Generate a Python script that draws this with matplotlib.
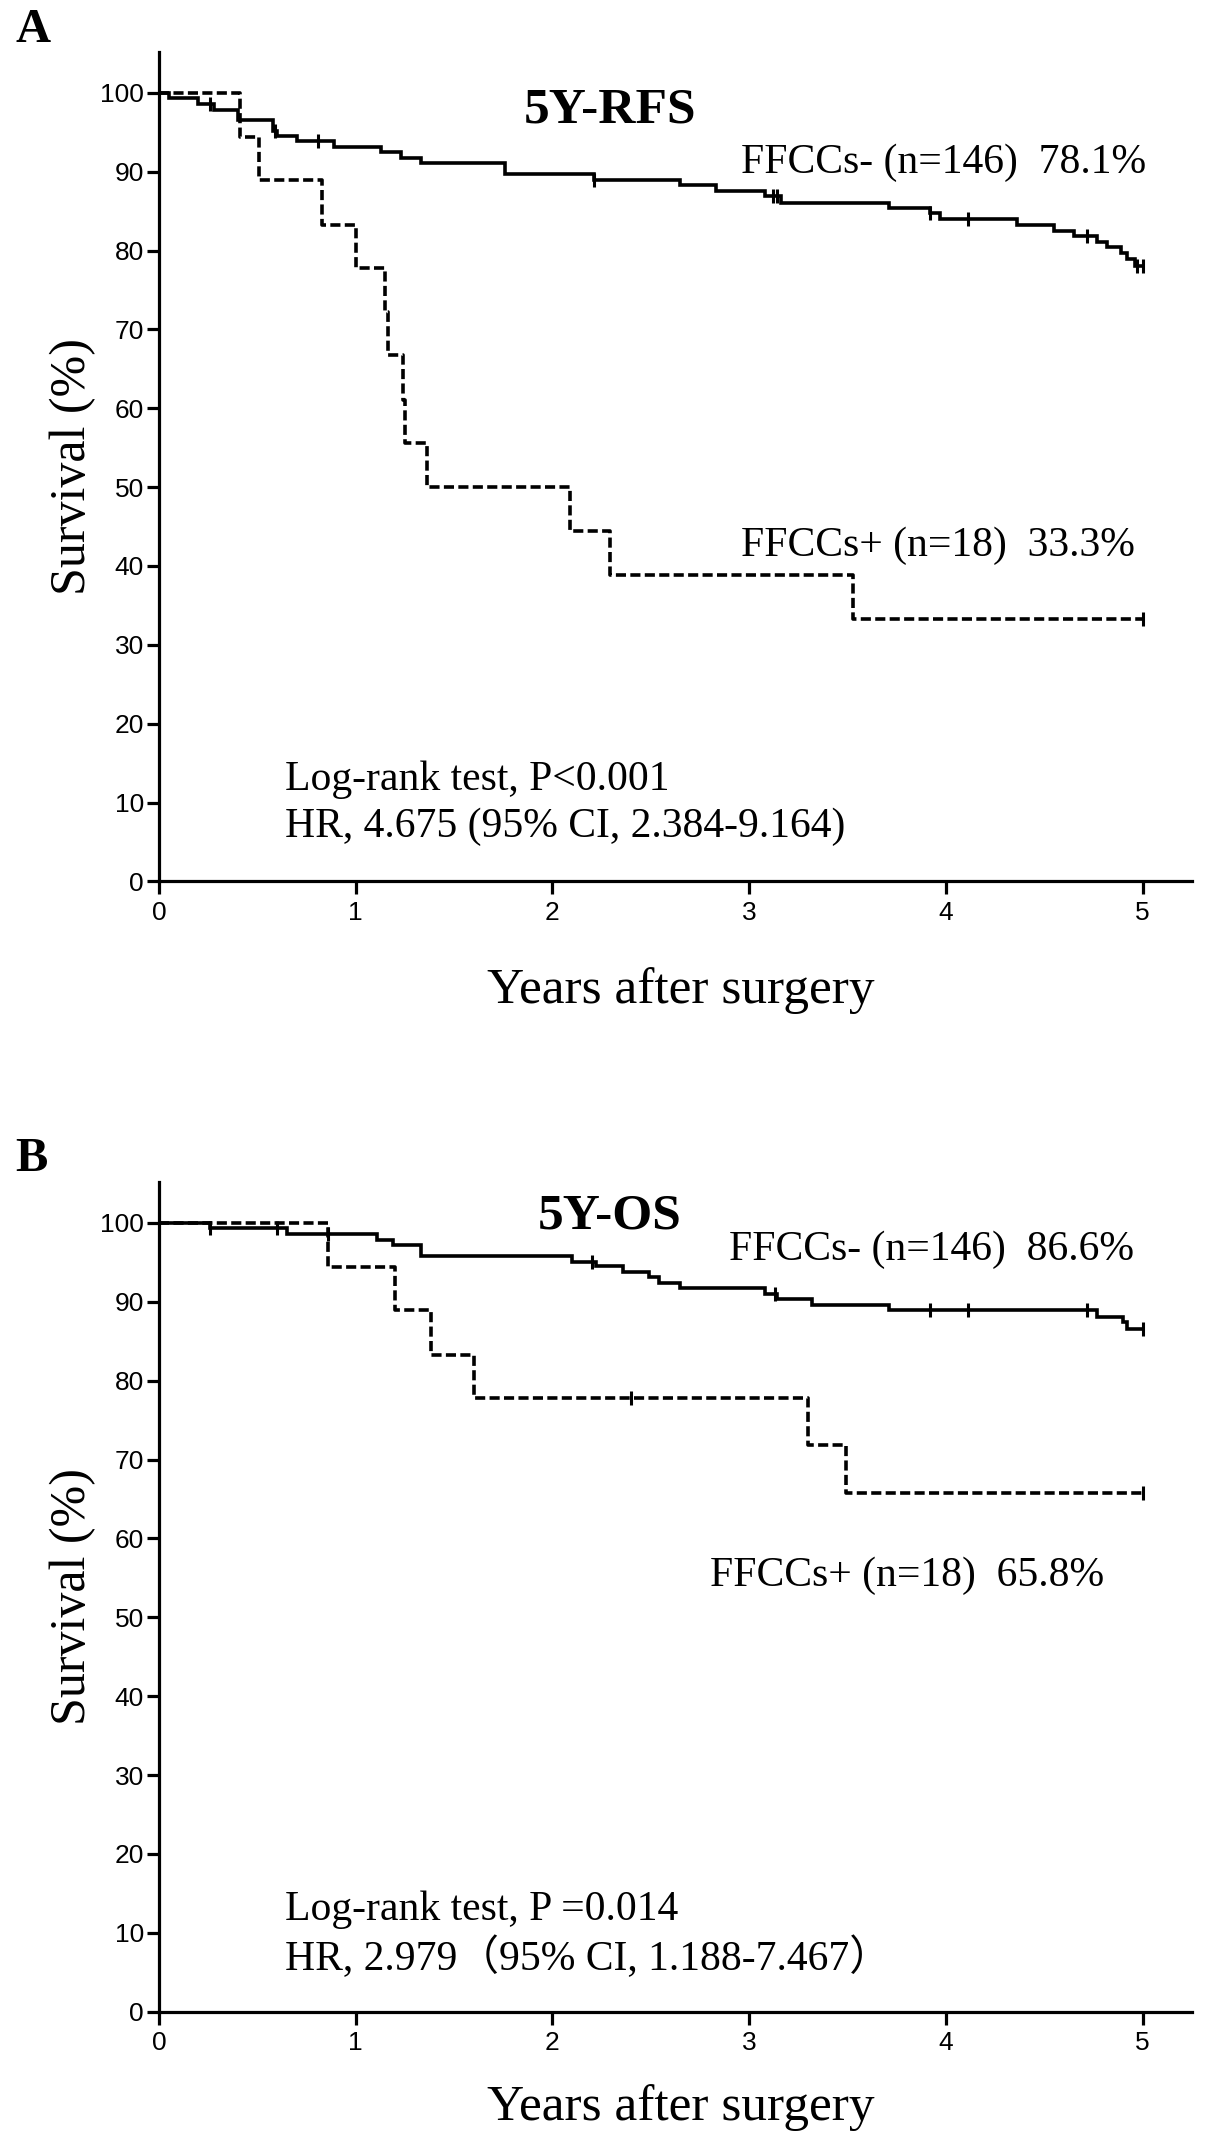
import matplotlib
matplotlib.use("Agg")
import matplotlib.pyplot as plt

# panel A, 5Y-RFS
rfs_neg_t = [0, 0.05, 0.20, 0.28, 0.40, 0.58, 0.60, 0.70, 0.89, 1.13, 1.23, 1.33, 1.76,
             2.21, 2.65, 2.83, 3.08, 3.16, 3.71, 3.92, 3.97, 4.36, 4.55, 4.65, 4.77,
             4.82, 4.89, 4.92, 4.96, 5.0]
rfs_neg_s = [100, 99.3, 98.6, 97.9, 96.6, 95.2, 94.5, 93.9, 93.2, 92.5, 91.8, 91.1, 89.7,
             89.0, 88.3, 87.6, 86.9, 86.1, 85.4, 84.8, 84.0, 83.3, 82.5, 81.8, 81.1,
             80.4, 79.7, 79.0, 78.1, 78.1]
rfs_neg_cens = [0.26, 0.59, 0.81, 2.21, 3.12, 3.14, 3.92, 4.11, 4.72, 4.97, 5.0]

rfs_pos_t = [0, 0.41, 0.51, 0.83, 1.00, 1.15, 1.165, 1.24, 1.25, 1.36, 2.09, 2.29, 3.53, 5.0]
rfs_pos_s = [100, 94.4, 88.9, 83.3, 77.8, 72.2, 66.7, 61.1, 55.6, 50.0, 44.4, 38.9, 33.3, 33.3]
rfs_pos_cens = [5.0]

# panel B, 5Y-OS
os_neg_t = [0, 0.26, 0.65, 1.11, 1.19, 1.33, 2.10, 2.22, 2.36, 2.49, 2.54, 2.65, 3.08,
            3.14, 3.32, 3.71, 4.77, 4.90, 4.92, 5.0]
os_neg_s = [100, 99.3, 98.6, 97.9, 97.2, 95.8, 95.1, 94.5, 93.8, 93.1, 92.4, 91.7, 91.0,
            90.3, 89.6, 88.9, 88.1, 87.4, 86.6, 86.6]
os_neg_cens = [0.26, 0.60, 0.86, 2.20, 3.13, 3.92, 4.11, 4.72, 5.0]

os_pos_t = [0, 0.86, 1.20, 1.38, 1.60, 3.30, 3.49, 5.0]
os_pos_s = [100, 94.4, 88.9, 83.3, 77.8, 71.8, 65.8, 65.8]
os_pos_cens = [2.40, 5.0]

panels = [
    dict(letter="A", title="5Y-RFS",
         neg=(rfs_neg_t, rfs_neg_s, rfs_neg_cens), pos=(rfs_pos_t, rfs_pos_s, rfs_pos_cens),
         neg_lbl="FFCCs- (n=146)  78.1%", pos_lbl="FFCCs+ (n=18)  33.3%",
         stat1="Log-rank test, P<0.001", stat2="HR, 4.675 (95% CI, 2.384-9.164)",
         title_y=96.3, neg_xy=(2.96, 89.9), pos_xy=(2.96, 41.3), stat_xy=(0.64, 11.6, 5.6),
         xlab_y=-0.103),
    dict(letter="B", title="5Y-OS",
         neg=(os_neg_t, os_neg_s, os_neg_cens), pos=(os_pos_t, os_pos_s, os_pos_cens),
         neg_lbl="FFCCs- (n=146)  86.6%", pos_lbl="FFCCs+ (n=18)  65.8%",
         stat1="Log-rank test, P =0.014", stat2="HR, 2.979\uff0895% CI, 1.188-7.467\uff09",
         title_y=99.3, neg_xy=(2.90, 95.3), pos_xy=(2.80, 54.0), stat_xy=(0.64, 11.6, 5.3),
         xlab_y=-0.087),
]

serif = ["Liberation Serif", "Noto Sans CJK SC", "DejaVu Serif"]
sans = ["Liberation Sans", "DejaVu Sans"]

fig = plt.figure(figsize=(12.05, 21.47), dpi=100)
rects = [[0.132, 0.5895, 0.857, 0.3863], [0.132, 0.063, 0.857, 0.3865]]

lw = 2.6
dash = (0, (2.8, 1.2))

def km(ax, t, s, cens, ls):
    ax.step(t, s, where="post", color="black", lw=lw, linestyle=ls, solid_joinstyle="miter")
    cy = []
    for c in cens:
        v = s[0]
        for ti, si in zip(t, s):
            if ti <= c:
                v = si
        cy.append(v)
    ax.plot(cens, cy, linestyle="none", marker="|", color="black", ms=10, mew=2.2)

for p, r in zip(panels, rects):
    ax = fig.add_axes(r)
    km(ax, *p["neg"], "-")
    km(ax, *p["pos"], dash)

    ax.set_xlim(0, 5.25)
    ax.set_ylim(0, 105.2)
    ax.set_xticks(range(0, 6))
    ax.set_yticks(range(0, 101, 10))
    for side in ["top", "right"]:
        ax.spines[side].set_visible(False)
    for side in ["left", "bottom"]:
        ax.spines[side].set_linewidth(2.3)
    ax.tick_params(direction="out", length=9, width=2.3, pad=2, labelsize=19)
    for lab in ax.get_xticklabels() + ax.get_yticklabels():
        lab.set_family(sans)
    ax.tick_params(axis="x", pad=5)

    ax.set_xlabel("Years after surgery", family=serif, fontsize=37)
    ax.xaxis.set_label_coords(0.505, p["xlab_y"])
    ax.set_ylabel("Survival (%)", family=serif, fontsize=36)
    ax.yaxis.set_label_coords(-0.061, 0.5)

    ax.text(2.29, p["title_y"], p["title"], family=serif, fontsize=37,
            fontweight="bold", ha="center", va="baseline")
    ax.text(*p["neg_xy"], p["neg_lbl"], family=serif, fontsize=30, va="baseline")
    ax.text(*p["pos_xy"], p["pos_lbl"], family=serif, fontsize=30, va="baseline")
    sx, sy1, sy2 = p["stat_xy"]
    ax.text(sx, sy1, p["stat1"], family=serif, fontsize=30, va="baseline")
    ax.text(sx, sy2, p["stat2"], family=serif, fontsize=30, va="baseline")

fig.text(0.013, 1 - 30 / 2147, "A", family=serif, fontsize=35, fontweight="bold",
         ha="left", va="center")
fig.text(0.013, 1 - 1159 / 2147, "B", family=serif, fontsize=35, fontweight="bold",
         ha="left", va="center")

fig.savefig("out.png", dpi=100)
